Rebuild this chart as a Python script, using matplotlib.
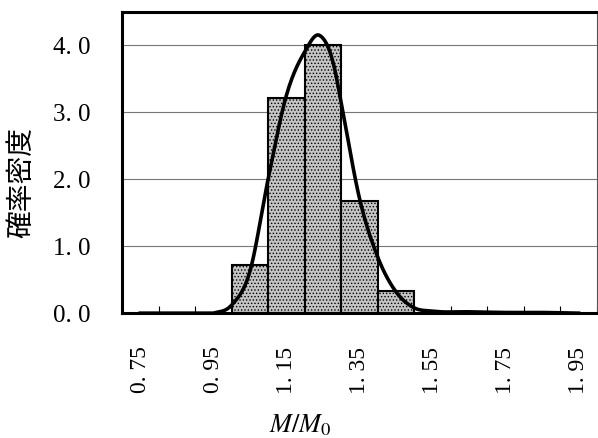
import numpy as np
import matplotlib
matplotlib.use("Agg")
import matplotlib.pyplot as plt

plt.rcParams['font.family'] = ['Liberation Serif', 'DejaVu Serif']
plt.rcParams['mathtext.fontset'] = 'stix'
plt.rcParams['hatch.linewidth'] = 0.6
plt.rcParams['hatch.color'] = '#6e6e6e'

# categories (class centres) and tick labels
categories = [0.75, 0.85, 0.95, 1.05, 1.15, 1.25, 1.35, 1.45, 1.55, 1.65, 1.75, 1.85, 1.95]
tick_labels = ['0. 75', '0. 95', '1. 15', '1. 35', '1. 55', '1. 75', '1. 95']
y_labels = ['0. 0', '1. 0', '2. 0', '3. 0', '4. 0']

# histogram (probability density)
hist_x = [1.05, 1.15, 1.25, 1.35, 1.45]
hist_y = [0.72, 3.22, 4.00, 1.67, 0.33]

# fitted density curve
curve_x = [0.75, 0.85, 0.95, 1.00, 1.05, 1.10, 1.15, 1.20, 1.24, 1.28, 1.30, 1.35,
           1.40, 1.45, 1.50, 1.55, 1.65, 1.75, 1.85, 1.95]
curve_y = [0.0, 0.0, 0.0, 0.12, 0.62, 2.0, 3.25, 3.9, 4.15, 3.7, 3.15, 1.72,
           0.84, 0.32, 0.08, 0.03, 0.02, 0.01, 0.01, 0.0]


def pos(v):
    return (np.asarray(v, dtype=float) - categories[0]) / 0.1


def smooth(x, y, n=20):
    # cubic Hermite through the points (like a smoothed line)
    x = np.asarray(x, float)
    y = np.asarray(y, float)
    m = np.gradient(y, x)
    xs, ys = [], []
    for i in range(len(x) - 1):
        h = x[i + 1] - x[i]
        t = np.linspace(0, 1, n, endpoint=False)
        h00 = 2 * t**3 - 3 * t**2 + 1
        h10 = t**3 - 2 * t**2 + t
        h01 = -2 * t**3 + 3 * t**2
        h11 = t**3 - t**2
        xs.append(x[i] + t * h)
        ys.append(h00 * y[i] + h10 * h * m[i] + h01 * y[i + 1] + h11 * h * m[i + 1])
    xs.append([x[-1]])
    ys.append([y[-1]])
    return np.concatenate(xs), np.clip(np.concatenate(ys), 0, None)


fig = plt.figure(figsize=(5.98, 4.38), dpi=100)
ax = fig.add_axes([0.204, 0.285, 0.794, 0.688])

ax.bar(pos(hist_x), hist_y, width=1.0, facecolor='#c4c4c4', edgecolor='black',
       linewidth=1.5, hatch='.....', zorder=2)

sx, sy = smooth(curve_x, curve_y)
ax.plot(pos(sx), sy, color='black', linewidth=2.6, zorder=3)

ax.set_xlim(-0.5, len(categories) - 0.5)
ax.set_ylim(0, 4.5)

# gridlines
ax.set_yticks([0, 1, 2, 3, 4])
ax.set_yticklabels(y_labels, fontsize=18)
ax.yaxis.grid(True, color='#777777', linewidth=0.8)
ax.set_axisbelow(True)
ax.tick_params(axis='y', length=0, pad=23)

# tick marks between categories, labels on every other category
ax.set_xticks(np.arange(len(categories) + 1) - 0.5)
ax.set_xticklabels([])
ax.tick_params(axis='x', which='major', direction='in', length=5, width=0.8)
ax.set_xticks(pos(categories[::2]), minor=True)
ax.set_xticklabels(tick_labels, minor=True, rotation=90, fontsize=17)
ax.tick_params(axis='x', which='minor', length=0, pad=24)

for side in ['left', 'top', 'bottom']:
    ax.spines[side].set_linewidth(2.2)
ax.spines['right'].set_linewidth(0.8)
ax.spines['right'].set_color('#555555')

fig.text(21 / 598, 1 - 182 / 438, '確率密度', fontsize=20, rotation=90,
         ha='center', va='center', family=['Noto Sans CJK JP', 'DejaVu Sans'])
fig.text(300 / 598, 1 - 432 / 438, r'$M/M_0$', fontsize=19, ha='center',
         va='baseline')

fig.savefig('out.png', dpi=100)
